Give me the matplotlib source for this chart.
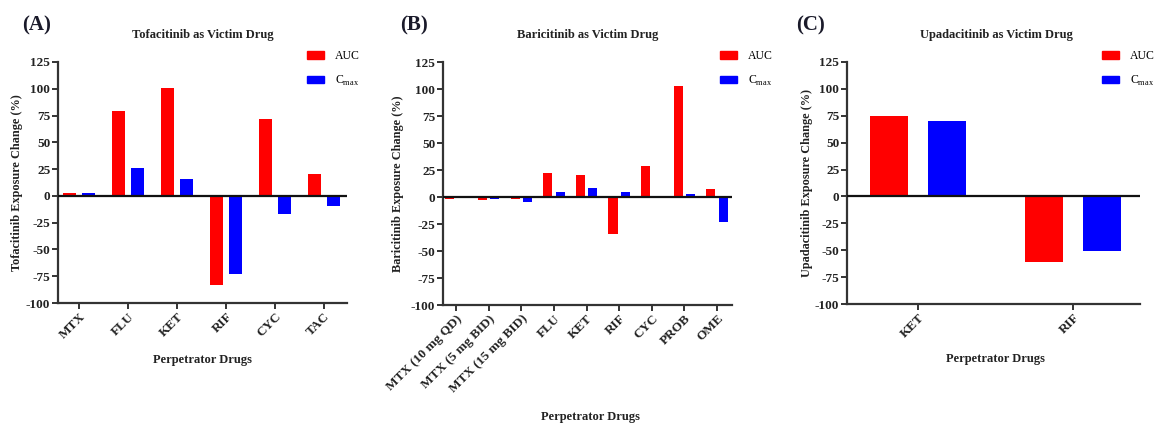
import matplotlib.pyplot as plt
import numpy as np
from matplotlib.patches import Patch

plt.rcParams['font.family'] = ['Liberation Serif', 'DejaVu Serif']
plt.rcParams['mathtext.fontset'] = 'custom'
plt.rcParams['mathtext.rm'] = 'Liberation Serif'
plt.rcParams['axes.unicode_minus'] = False

# exposure change (%) for each victim drug
tofa_drugs = ["MTX", "FLU", "KET", "RIF", "CYC", "TAC"]
tofa_auc = [3, 79, 101, -83, 72, 20]
tofa_cmax = [3, 26, 16, -73, -17, -9]

bari_drugs = ["MTX (10 mg QD)", "MTX (5 mg BID)", "MTX (15 mg BID)", "FLU", "KET",
              "RIF", "CYC", "PROB", "OME"]
bari_auc = [-2, -3, -2, 22, 20, -34, 29, 103, 7]
bari_cmax = [-1, -2, -5, 5, 8, 5, 1, 3, -23]

upa_drugs = ["KET", "RIF"]
upa_auc = [75, -61]
upa_cmax = [70, -51]

W, H = 1154, 423
fig = plt.figure(figsize=(W / 100, H / 100), dpi=100)


def px_axes(left, right, top, bottom):
    return fig.add_axes([left / W, 1 - bottom / H, (right - left) / W, (bottom - top) / H])


panels = [
    dict(box=(58, 347, 62, 303), drugs=tofa_drugs, auc=tofa_auc, cmax=tofa_cmax,
         pad=(0.43, 0.47), width=0.27, off=0.19,
         letter="(A)", lx=22, title="Tofacitinib as Victim Drug", tx=203,
         ylabel="Tofacitinib Exposure Change (%)", ylx=-0.121, xly=-0.212, xlx=0.50,
         leg=307),
    dict(box=(443, 732, 62, 305), drugs=bari_drugs, auc=bari_auc, cmax=bari_cmax,
         pad=(0.40, 0.46), width=0.28, off=0.19,
         letter="(B)", lx=400, title="Baricitinib as Victim Drug", tx=588,
         ylabel="Baricitinib Exposure Change (%)", ylx=-0.135, xly=-0.436, xlx=0.509,
         leg=720),
    dict(box=(847, 1140, 62, 304), drugs=upa_drugs, auc=upa_auc, cmax=upa_cmax,
         pad=(0.46, 0.43), width=0.245, off=0.187,
         letter="(C)", lx=796, title="Upadacitinib as Victim Drug", tx=996,
         ylabel="Upadacitinib Exposure Change (%)", ylx=-0.116, xly=-0.202, xlx=0.505,
         leg=1102),
]

for p in panels:
    ax = px_axes(*p["box"])
    x = np.arange(len(p["drugs"]))
    ax.bar(x - p["off"], p["auc"], p["width"], color="#ff0000", zorder=2)
    ax.bar(x + p["off"], p["cmax"], p["width"], color="#0000ff", zorder=2)
    ax.axhline(0, color="#111111", lw=1.6, zorder=3)

    ax.set_xlim(-p["pad"][0], len(p["drugs"]) - 1 + p["pad"][1])
    ax.set_ylim(-100, 125)
    ax.set_yticks(np.arange(-100, 126, 25))
    ax.set_xticks(x)
    ax.set_xticklabels(p["drugs"], rotation=45, ha="right", rotation_mode="anchor")
    for lab in ax.get_xticklabels() + ax.get_yticklabels():
        lab.set_fontweight("bold")
        lab.set_fontsize(9.5)
        lab.set_color("#222222")

    for side in ("top", "right"):
        ax.spines[side].set_visible(False)
    for side in ("left", "bottom"):
        ax.spines[side].set_linewidth(1.6)
        ax.spines[side].set_color("#333333")
    ax.tick_params(direction="out", length=4, width=1.4, color="#333333", pad=1.5)

    ax.set_ylabel(p["ylabel"], fontsize=8.8, fontweight="bold", color="#222222")
    ax.yaxis.set_label_coords(p["ylx"], 0.5)
    ax.set_xlabel("Perpetrator Drugs", fontsize=9, fontweight="bold", color="#222222")
    ax.xaxis.set_label_coords(p["xlx"], p["xly"])

    fig.text(p["lx"] / W, 1 - 25 / H, p["letter"], fontsize=15, fontweight="bold",
             color="#1a1a2a", ha="left", va="center")
    fig.text(p["tx"] / W, 1 - 35 / H, p["title"], fontsize=9, fontweight="bold",
             color="#222222", ha="center", va="center")

    handles = [Patch(color="#ff0000"), Patch(color="#0000ff")]
    ax.legend(handles, ["AUC", r"C$_{\mathregular{max}}$"], loc="upper left",
              bbox_to_anchor=(p["leg"] / W, 1 - 50 / H), bbox_transform=fig.transFigure,
              frameon=False, fontsize=8.5, borderpad=0, borderaxespad=0,
              handlelength=1.45, handleheight=0.6, handletextpad=0.9, labelspacing=1.0)

fig.savefig("out.png", dpi=100)
